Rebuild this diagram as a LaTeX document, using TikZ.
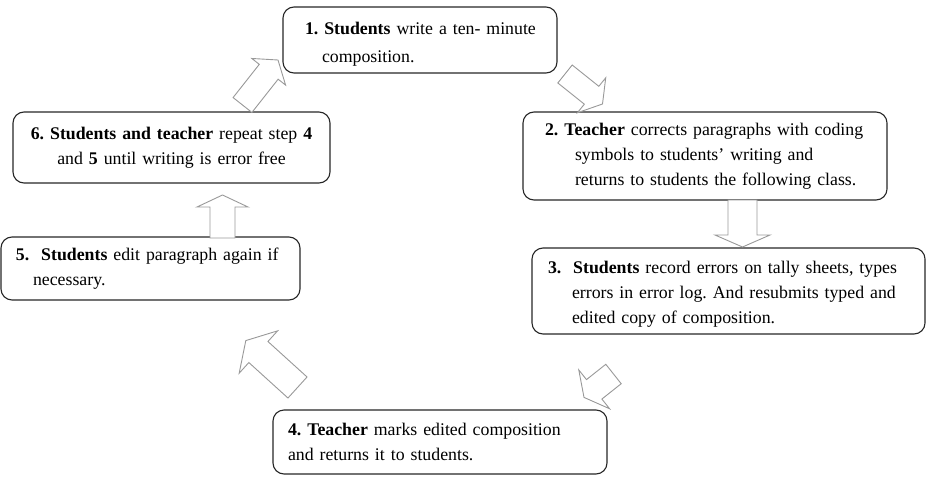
\documentclass[tikz,border=0pt]{standalone}
\usepackage{fontspec}
\setmainfont{Liberation Serif}
\usetikzlibrary{calc}

% block arrow: tail, tip, half shaft width, half head width, head length
\newcommand\blockarrow[5]{%
  \coordinate (hb) at ($(#2)!#5!(#1)$);
  \draw[blk] ($(#1)!#3!90:(#2)$)--($(hb)!#3!-90:(#1)$)--($(hb)!#4!-90:(#1)$)--(#2)
    --($(hb)!#4!90:(#1)$)--($(hb)!#3!90:(#1)$)--($(#1)!#3!-90:(#2)$)--cycle;}

\begin{document}
\begin{tikzpicture}[x=1pt,y=-1pt,
  box/.style={draw=black!85,line width=1.1pt,rounded corners=11pt,inner sep=0pt,align=left,
    font=\fontsize{17.8}{25}\selectfont,execute at begin node=\frenchspacing},
  blk/.style={draw=black!40,line width=0.9pt,fill=white,line join=miter}]
\useasboundingbox (0,0) rectangle (933,476);
\node[box,minimum width=274pt,minimum height=66pt,text width=254pt] (b1) at (420,40)
  {\rule{0pt}{20pt}\hspace*{12pt}\textbf{1. Students} write a ten- minute\\[3pt]\hspace*{29pt}composition.};
\node[box,minimum width=364pt,minimum height=88pt,text width=344pt] (b2) at (705,156)
  {\hspace*{12pt}\textbf{2. Teacher} corrects paragraphs with coding\\\hspace*{42pt}symbols to students' writing and\\\hspace*{42pt}returns to students the following class.};
\node[box,minimum width=393pt,minimum height=86pt,text width=373pt] (b3) at (728.5,291)
  {\rule{0pt}{18pt}\hspace*{6pt}\textbf{3.\ \ Students} record errors on tally sheets, types\\\hspace*{30pt}errors in error log. And resubmits typed and\\\hspace*{30pt}edited copy of composition.};
\node[box,minimum width=334pt,minimum height=64pt,text width=314pt] (b4) at (440,442)
  {\hspace*{5pt}\textbf{4. Teacher} marks edited composition\\\hspace*{5pt}and returns it to students.};
\node[box,minimum width=299pt,minimum height=63pt,text width=279pt] (b5) at (150.5,268.5)
  {\hspace*{5pt}\textbf{5.\ \ Students} edit paragraph again if\\\hspace*{22pt}necessary.};
\node[box,align=center,minimum width=317pt,minimum height=71pt,text width=305pt] (b6) at (171.5,147.5)
  {\textbf{6. Students and teacher} repeat step \textbf{4}\\and \textbf{5} until writing is error free\\[4pt]};
% arrow ends
\coordinate (t61) at (242.5,105); \coordinate (h61) at (278,60);
\coordinate (t12) at (565,74);    \coordinate (h12) at (602.5,104);
\coordinate (t23) at (742.5,200); \coordinate (h23) at (742.5,247);
\coordinate (t34) at (613.5,374); \coordinate (h34) at (584,397.4);
\coordinate (t45) at (297.5,387.5); \coordinate (h45) at (245.8,340.6);
\coordinate (t56) at (222.5,238); \coordinate (h56) at (222.5,195);
\blockarrow{t61}{h61}{12pt}{21.5pt}{15pt}
\blockarrow{t12}{h12}{11.5pt}{22.5pt}{14pt}
\blockarrow{t23}{h23}{14.5pt}{27.5pt}{12pt}
\blockarrow{t34}{h34}{12.4pt}{24.8pt}{13pt}
\blockarrow{t45}{h45}{14.2pt}{28.6pt}{17pt}
\blockarrow{t56}{h56}{12.5pt}{25.5pt}{12pt}
\end{tikzpicture}
\end{document}
